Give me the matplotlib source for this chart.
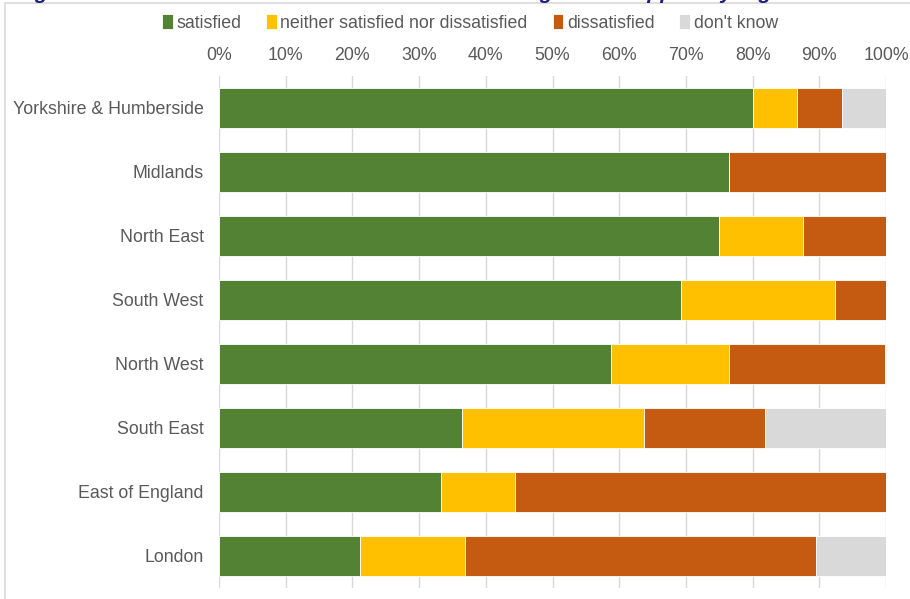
import numpy as np
import matplotlib.pyplot as plt
from matplotlib.patches import Rectangle

plt.rcParams['font.family'] = ['Liberation Sans', 'DejaVu Sans']

# regions, top to bottom
regions = ["Yorkshire & Humberside", "Midlands", "North East", "South West",
           "North West", "South East", "East of England", "London"]

satisfied = [80.0, 76.5, 75.0, 69.2, 58.8, 36.4, 33.3, 21.1]
neither = [6.7, 0.0, 12.5, 23.1, 17.6, 27.3, 11.1, 15.8]
dissatisfied = [6.7, 23.5, 12.5, 7.7, 23.5, 18.2, 55.6, 52.6]
dont_know = [6.6, 0.0, 0.0, 0.0, 0.0, 18.1, 0.0, 10.5]

series = [("satisfied", satisfied, "#548235"),
          ("neither satisfied nor dissatisfied", neither, "#FFC000"),
          ("dissatisfied", dissatisfied, "#C55A11"),
          ("don't know", dont_know, "#D9D9D9")]

ticks = np.arange(0, 101, 10)
tick_labels = [f"{t}%" for t in ticks]

fig = plt.figure(figsize=(9.1, 5.99), dpi=100)
ax = fig.add_axes([219/910, 11/599, 667/910, 512/599])

y = np.arange(len(regions))
left = np.zeros(len(regions))
for name, vals, col in series:
    vals = np.array(vals)
    ax.barh(y, vals, left=left, height=0.625, color=col, label=name,
            edgecolor="white", linewidth=0.6, zorder=3)
    left += vals

ax.set_xlim(0, 100)
ax.set_ylim(len(regions) - 0.5, -0.5)
ax.set_yticks(y)
ax.set_yticklabels(regions)
ax.set_xticks(ticks)
ax.set_xticklabels(tick_labels)
ax.xaxis.tick_top()
ax.tick_params(axis="both", length=0, labelsize=12.8, labelcolor="#595959")
ax.tick_params(axis="x", pad=9)
ax.tick_params(axis="y", pad=11)
ax.grid(axis="x", color="#D9D9D9", linewidth=1, zorder=0)
for s in ax.spines.values():
    s.set_visible(False)

leg = fig.legend(loc="center", bbox_to_anchor=(470/910, 1 - 23/599), ncol=4,
                 frameon=False, fontsize=12.8, handlelength=0.6, handleheight=0.9,
                 handletextpad=0.2, columnspacing=1.4, labelcolor="#595959")

# chart frame (only top and left edges fall inside the image)
fig.patches.append(Rectangle((5/910, -0.05), 1.05, 1.05 - 3/599,
                             transform=fig.transFigure, fill=False,
                             edgecolor="#D9D9D9", linewidth=1.2))

# title, mostly cut off above the image
fig.text(16/910, 1 + 1/599,
         "Figure 9: Satisfaction with the amount and the timing of the support by region",
         fontsize=15.3, fontweight="bold", style="italic", color="#1F1F7A",
         va="baseline", ha="left")

fig.savefig("out.png", dpi=100)
